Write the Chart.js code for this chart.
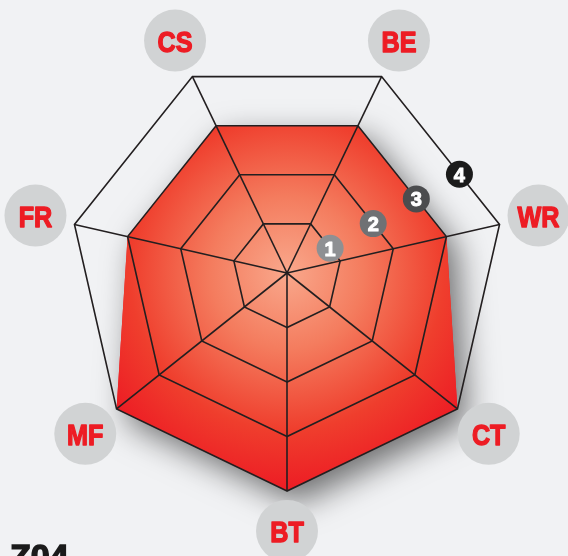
<!DOCTYPE html>
<html>
<head>
<meta charset="utf-8">
<script src="https://cdn.jsdelivr.net/npm/chart.js@4/dist/chart.umd.min.js"></script>
<style>
  html, body { margin: 0; padding: 0; background: #f1f2f4; overflow: hidden; }
  #wrap { position: relative; width: 568px; height: 556px; }
  #code {
    position: absolute; left: 10px; top: 539px;
    font: bold 34px "Liberation Sans", Arial, sans-serif; line-height: 1;
    color: #1b1b1b; -webkit-text-stroke: 1.5px #1b1b1b;
  }
</style>
</head>
<body>
<div id="wrap">
  <canvas id="skill-radar"></canvas>
  <div id="code">Z04</div>
</div>
<script>
// axes, clockwise from the bottom
const skills = ["BT", "MF", "FR", "CS", "BE", "WR", "CT"];
const scores = [4, 4, 3, 3, 3, 3, 4];
const levels = [1, 2, 3, 4];
const levelColors = ["#8e9093", "#6f7174", "#4b4c4e", "#1b1b1b"];

const RED = "#ed1c24";

// soft drop shadow under the filled area
const shadowPlugin = {
    id: "areaShadow",
    beforeDatasetsDraw(chart) {
        const pts = chart.getDatasetMeta(0).data;
        const ctx = chart.ctx;
        ctx.save();
        ctx.shadowColor = "rgba(0, 0, 0, 0.55)";
        ctx.shadowBlur = 32;
        ctx.shadowOffsetX = 10;
        ctx.shadowOffsetY = 12;
        ctx.beginPath();
        pts.forEach((p, i) => (i ? ctx.lineTo(p.x, p.y) : ctx.moveTo(p.x, p.y)));
        ctx.closePath();
        ctx.fillStyle = RED;
        ctx.fill();
        ctx.restore();
    },
};

// heavy narrow text, squeezed horizontally around its centre
const drawNarrow = (ctx, text, x, y, squeeze, weight) => {
    ctx.save();
    ctx.translate(x, y);
    ctx.scale(squeeze, 1);
    ctx.lineWidth = weight;
    ctx.lineJoin = "round";
    ctx.strokeStyle = ctx.fillStyle;
    ctx.fillText(text, 0, 0);
    ctx.strokeText(text, 0, 0);
    ctx.restore();
};

// grey discs with the axis names, and the numbered level markers
const badgePlugin = {
    id: "badges",
    afterDraw(chart) {
        const ctx = chart.ctx;
        const scale = chart.scales.r;
        ctx.save();
        ctx.textAlign = "center";

        skills.forEach((name, i) => {
            const p = scale.getPointPosition(i, scale.drawingArea + 40);
            ctx.beginPath();
            ctx.arc(p.x, p.y, 31, 0, Math.PI * 2);
            ctx.fillStyle = "#d1d3d4";
            ctx.fill();
            ctx.fillStyle = RED;
            ctx.font = 'bold 30px "Liberation Sans", Arial, sans-serif';
            drawNarrow(ctx, name, p.x, p.y + 11, 0.84, 1.4);
        });

        // markers sit on each ring's BE-WR edge
        const a = skills.indexOf("BE");
        const b = skills.indexOf("WR");
        levels.forEach((lv, i) => {
            const p1 = scale.getPointPositionForValue(a, lv);
            const p2 = scale.getPointPositionForValue(b, lv);
            const x = p1.x + (p2.x - p1.x) * 0.66;
            const y = p1.y + (p2.y - p1.y) * 0.66;
            ctx.beginPath();
            ctx.arc(x, y, 13.5, 0, Math.PI * 2);
            ctx.fillStyle = levelColors[i];
            ctx.fill();
            ctx.fillStyle = "#ffffff";
            ctx.font = 'bold 20px "Liberation Sans", Arial, sans-serif';
            drawNarrow(ctx, String(lv), x, y + 7.5, 1, 1);
        });
        ctx.restore();
    },
};

const areaGradient = (context) => {
    const chart = context.chart;
    const scale = chart.scales.r;
    if (!scale || !scale.drawingArea) {
        return RED;
    }
    const g = chart.ctx.createRadialGradient(
        scale.xCenter, scale.yCenter, 0,
        scale.xCenter, scale.yCenter, scale.drawingArea
    );
    g.addColorStop(0, "#f9a88c");
    g.addColorStop(0.35, "#f47c5e");
    g.addColorStop(0.72, "#ef3e2d");
    g.addColorStop(1, RED);
    return g;
};

const ctx = document.getElementById("skill-radar").getContext("2d");
new Chart(ctx, {
    type: "radar",
    data: {
        labels: skills,
        datasets: [
            {
                data: scores,
                fill: true,
                backgroundColor: areaGradient,
                borderColor: "transparent",
                borderWidth: 0,
                pointRadius: 0,
                pointHoverRadius: 0,
            },
        ],
    },
    options: {
        responsive: true,
        maintainAspectRatio: false,
        animation: false,
        layout: {
            padding: { left: 69, right: 63, top: 55, bottom: 65 },
        },
        plugins: {
            legend: { display: false },
            tooltip: { enabled: false },
        },
        scales: {
            r: {
                min: 0,
                max: 4,
                startAngle: 180,
                ticks: { display: false, stepSize: 1 },
                pointLabels: { display: false },
                // web lines go on top of the filled area
                grid: { z: 1, color: "#231f20", lineWidth: 1.6 },
                angleLines: { color: "#231f20", lineWidth: 1.6 },
            },
        },
    },
    plugins: [shadowPlugin, badgePlugin],
});
</script>
</body>
</html>
